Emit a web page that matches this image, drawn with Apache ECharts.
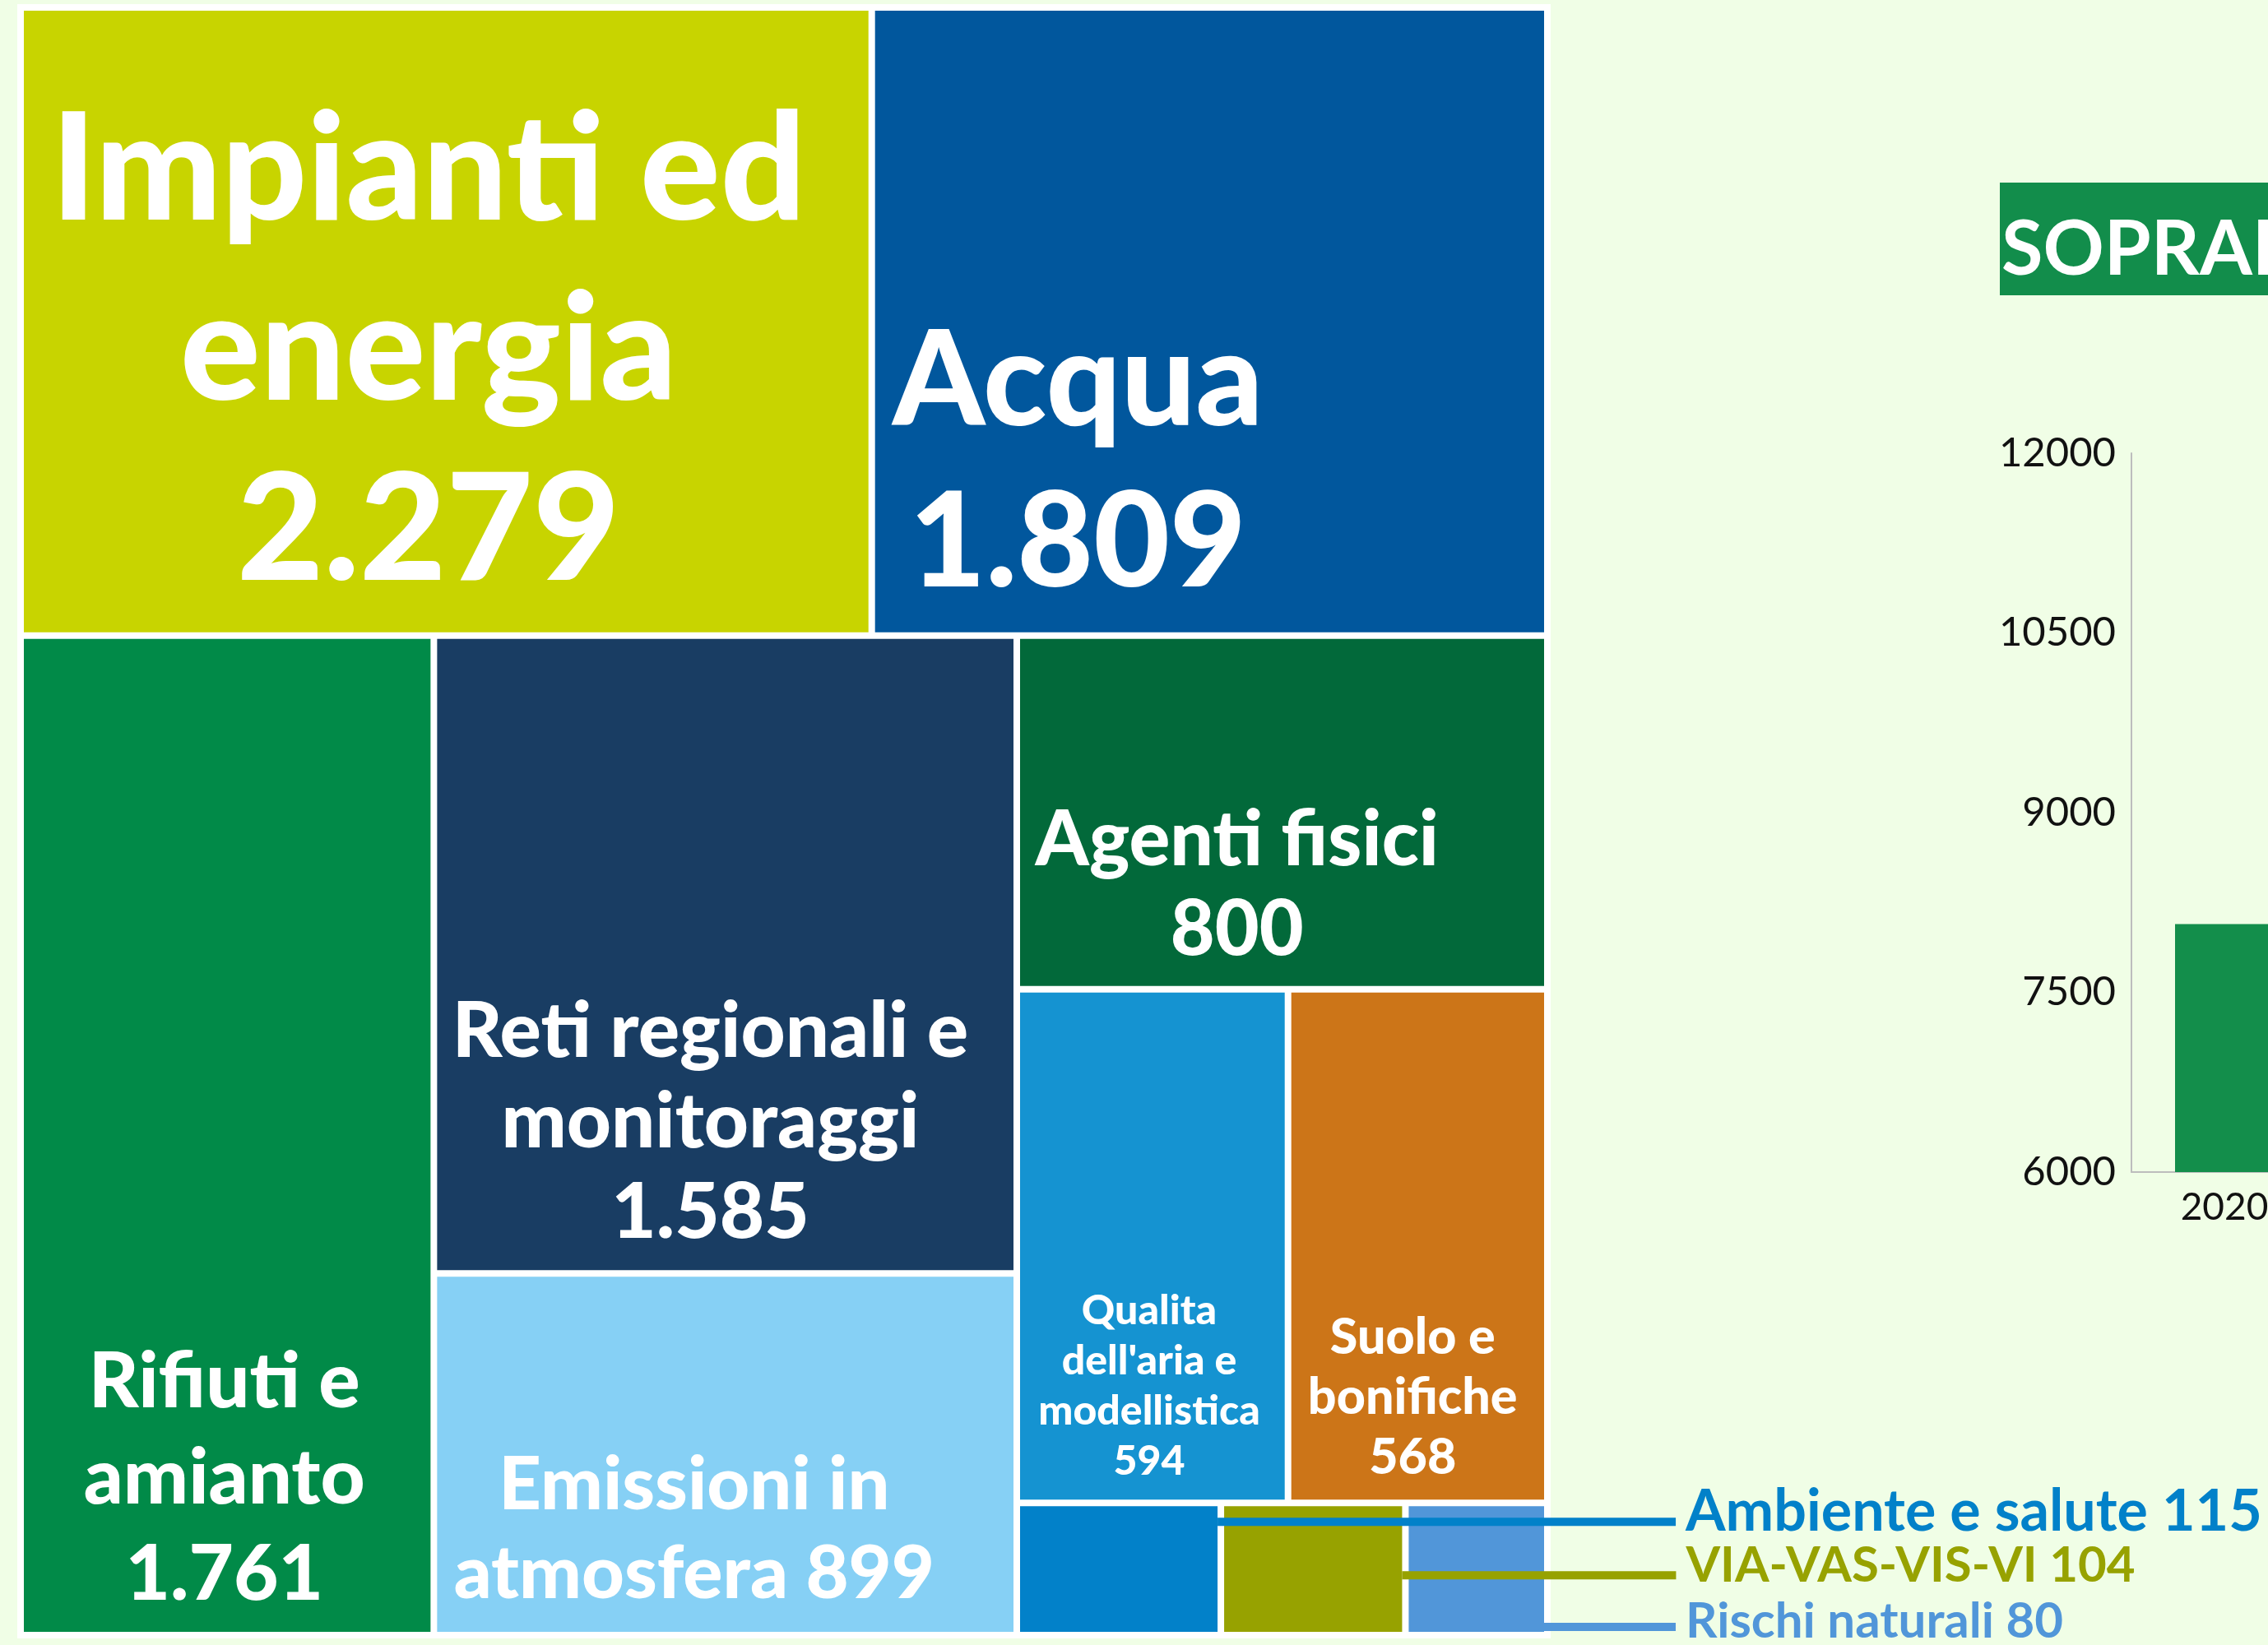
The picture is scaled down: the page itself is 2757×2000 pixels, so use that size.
<!DOCTYPE html>
<html>
<head>
<meta charset="utf-8">
<title>Attività per tematica</title>
<script src="https://cdn.jsdelivr.net/npm/echarts@6/dist/echarts.min.js"></script>
<style>
  html, body { margin: 0; padding: 0; background: #f0fee6; }
  #chart { width: 2757px; height: 2000px; }
</style>
</head>
<body>
<div id="chart"></div>
<script>
// treemap: activities per theme
const categories = [
  'Impianti ed\nenergia',
  'Acqua',
  'Rifiuti e\namianto',
  'Reti regionali e\nmonitoraggi',
  'Emissioni in\natmosfera',
  'Agenti fisici',
  'Qualita\ndell\'aria e\nmodellistica',
  'Suolo e\nbonifiche',
  'Ambiente e salute',
  'VIA-VAS-VIS-VI',
  'Rischi naturali'
]
const counts = [2279, 1809, 1761, 1585, 899, 800, 594, 568, 115, 104, 80]

// grouping of the tiles (indexes into categories) so the tiling follows the original
const tiling = [0, 1, [2, [[3, 4], [5, [6, 7], [8, 9, 10]]]]]

const tileColors = ['#c8d400', '#01579d', '#018a48', '#193d63', '#86d0f5', '#02693a',
  '#1593d1', '#cc7518', '#0281c9', '#97a200', '#5196d9']

// label placement inside each tile (small tiles get a leader bar and an outside label)
const tileLabels = [
  { pos: ['47.9%', '54.8%'], size: 182, lh: 219 },
  { pos: ['30.3%', '72.8%'], size: 160, lh: 196 },
  { pos: ['49.3%', '84.6%'], size: 94, lh: 117 },
  { pos: ['47.4%', '76.6%'], size: 94, lh: 110 },
  { pos: ['44.6%', '71.3%'], size: 90, lh: 108, inline: true },
  { pos: ['41.4%', '71.1%'], size: 93, lh: 109 },
  { pos: ['48.8%', '77.6%'], size: 50, lh: 61 },
  { pos: ['48%', '79.9%'], size: 61, lh: 73 },
  { pos: ['100%', '39.5%'], lead: 557, size: 70, lift: 24 },
  { pos: ['100%', '85.3%'], lead: 333, size: 60, lift: 24 },
  { pos: ['100%', '126.5%'], lead: 160, size: 60, lift: 12 }
]

// bar chart on the right (only the first year is visible)
const years = ['2020']
const visits = [8070]
const visitTicks = [6000, 7500, 9000, 10500, 12000]

const FONT = 'Lato'

function fmt (v) {
  if (v < 1000) return String(v)
  return Math.floor(v / 1000) + '.' + String(v % 1000).padStart(3, '0')
}

function leaf (i) {
  const st = tileLabels[i]
  const item = {
    name: categories[i],
    value: counts[i],
    itemStyle: { color: tileColors[i] }
  }
  if (st.lead) {
    item.label = {
      position: st.pos,
      align: 'left',
      verticalAlign: 'middle',
      rich: {
        bar: { width: st.lead, height: 10, backgroundColor: tileColors[i] },
        t: {
          fontSize: st.size,
          lineHeight: st.size,
          fontFamily: FONT,
          fontWeight: 'bold',
          color: tileColors[i],
          padding: [0, 0, st.lift, 12]
        }
      }
    }
  } else {
    item.label = {
      position: st.pos,
      align: 'center',
      verticalAlign: 'middle',
      fontSize: st.size,
      lineHeight: st.lh
    }
  }
  return item
}

function build (entry) {
  if (Array.isArray(entry)) return { name: '', children: entry.map(build) }
  return leaf(entry)
}

function tileLabel (p) {
  const i = categories.indexOf(p.name)
  if (i < 0) return ''
  const st = tileLabels[i]
  if (st.lead) return '{bar|}{t|' + p.name + ' ' + p.value + '}'
  return p.name + (st.inline ? ' ' : '\n') + fmt(p.value)
}

const chart = echarts.init(document.getElementById('chart'))
const option = {
  backgroundColor: '#f0fee6',
  animation: false,
  title: {
    text: 'SOPRALLUOGHI',
    left: 2431,
    top: 222,
    padding: [35, 2, 7, 2],
    backgroundColor: '#128d4b',
    textStyle: {
      color: '#fff',
      fontSize: 92,
      lineHeight: 95,
      fontWeight: 'bold',
      fontFamily: FONT
    }
  },
  grid: {
    left: 2591,
    top: 551,
    width: 226,
    height: 874,
    containLabel: false,
    outerBoundsMode: 'none'
  },
  xAxis: {
    type: 'category',
    data: years,
    axisLine: { lineStyle: { color: '#bdbdbd', width: 2 } },
    axisTick: { show: false },
    axisLabel: { color: '#111', fontSize: 46, fontFamily: FONT, margin: 20 }
  },
  yAxis: {
    type: 'value',
    min: visitTicks[0],
    max: visitTicks[visitTicks.length - 1],
    interval: visitTicks[1] - visitTicks[0],
    axisLine: { show: true, lineStyle: { color: '#bdbdbd', width: 2 } },
    axisTick: { show: false },
    splitLine: { show: false },
    axisLabel: {
      color: '#111',
      fontSize: 49,
      fontFamily: FONT,
      margin: 19,
      formatter: v => String(v)
    }
  },
  series: [
    {
      type: 'bar',
      data: visits,
      barWidth: 120,
      itemStyle: { color: '#138e4b' }
    },
    {
      type: 'treemap',
      left: 21,
      top: 5,
      width: 1864,
      height: 1987,
      squareRatio: 1,
      sort: false,
      roam: false,
      nodeClick: false,
      breadcrumb: { show: false },
      label: {
        show: true,
        color: '#fff',
        fontFamily: FONT,
        fontWeight: 900,
        overflow: 'none',
        padding: 0,
        formatter: tileLabel
      },
      upperLabel: { show: false },
      itemStyle: { borderWidth: 0, gapWidth: 8, borderColor: '#fff' },
      levels: [
        { itemStyle: { borderWidth: 8, gapWidth: 8, borderColor: '#fff' } }
      ],
      data: tiling.map(build)
    }
  ]
}
chart.setOption(option)
</script>
</body>
</html>
